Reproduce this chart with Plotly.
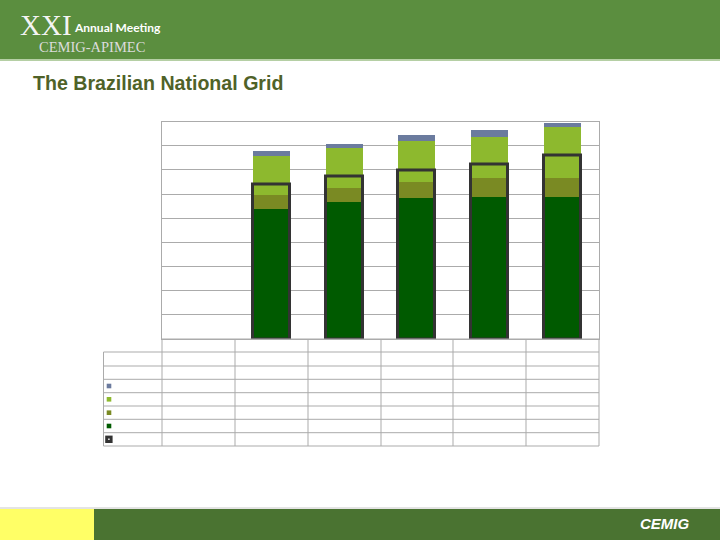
import numpy as np
import plotly.graph_objects as go

# ---------------- data ----------------
categories = [0, 1, 2, 3, 4, 5]            # six category columns (labels not shown)
cat_labels = ["", "", "", "", "", ""]
series_dark = [None, 5.38, 5.68, 5.85, 5.90, 5.90]
series_olive = [None, 0.58, 0.58, 0.68, 0.79, 0.80]
series_light = [None, 1.63, 1.67, 1.68, 1.71, 2.08]
series_blue = [None, 0.19, 0.18, 0.24, 0.25, 0.19]
series_box = [None, 6.39, 6.72, 6.96, 7.24, 7.61]
row_labels = ["", "", "", "", "", "", ""]

W, H = 720, 540


def px(x):
    return x / W


def py(y):
    return 1 - y / H


def arr(v):
    return np.array([np.nan if a is None else a for a in v], dtype=float)


d, o, l, b = arr(series_dark), arr(series_olive), arr(series_light), arr(series_blue)
bases = [np.zeros(6), d, d + o, d + o + l]
stack = [(d, "#005A00"), (o, "#7A8A23"), (l, "#8DB92E"), (b, "#6B7B9E")]

fig = go.Figure()
BW = 0.51
for (vals, col), base in zip(stack, bases):
    fig.add_trace(go.Bar(
        x=categories, y=vals, base=base, width=BW,
        marker=dict(color=col, line=dict(width=0)),
        showlegend=False, hoverinfo="skip"))

fig.add_trace(go.Bar(
    x=categories, y=arr(series_box), base=np.zeros(6), width=BW,
    marker=dict(color="rgba(0,0,0,0)", line=dict(width=3, color="#333333")),
    showlegend=False, hoverinfo="skip"))

# plot area geometry
X0, X1 = 162, 599
Y0, Y1 = 121.5, 339
GRID = "#ABABAB"

shapes = []
# header band
shapes.append(dict(type="rect", xref="paper", yref="paper", x0=0, x1=1,
                   y0=py(59), y1=1, fillcolor="#5B8E3F", line=dict(width=0), layer="below"))
shapes.append(dict(type="line", xref="paper", yref="paper", x0=0, x1=1,
                   y0=py(60), y1=py(60), line=dict(color="#9CBF86", width=1.5)))
# footer
shapes.append(dict(type="line", xref="paper", yref="paper", x0=0, x1=1,
                   y0=py(508), y1=py(508), line=dict(color="#C8C8C8", width=1)))
shapes.append(dict(type="rect", xref="paper", yref="paper", x0=0, x1=px(94),
                   y0=0, y1=py(509), fillcolor="#FFFF66", line=dict(width=0)))
shapes.append(dict(type="rect", xref="paper", yref="paper", x0=px(94), x1=1,
                   y0=0, y1=py(509), fillcolor="#4A7331", line=dict(width=0)))

# data table grid
col_lines = [162, 235, 308, 381, 453, 526, 599]
row_lines = [352, 366, 379.3, 392.7, 406, 419.3, 432.7, 446]
for cx in col_lines:
    shapes.append(dict(type="line", xref="paper", yref="paper", x0=px(cx), x1=px(cx),
                       y0=py(339), y1=py(446), line=dict(color=GRID, width=1)))
shapes.append(dict(type="line", xref="paper", yref="paper", x0=px(103.5), x1=px(103.5),
                   y0=py(352), y1=py(446), line=dict(color=GRID, width=1)))
for ry in row_lines:
    shapes.append(dict(type="line", xref="paper", yref="paper", x0=px(103.5), x1=px(599),
                       y0=py(ry), y1=py(ry), line=dict(color=GRID, width=1)))
shapes.append(dict(type="line", xref="paper", yref="paper", x0=px(162), x1=px(599),
                   y0=py(339), y1=py(339), line=dict(color=GRID, width=1)))

# legend keys in the table
key_cols = ["#6B7B9E", "#8DB92E", "#7A8A23", "#005A00"]
key_centers = [386, 399.3, 412.7, 426]
for kc, cy in zip(key_cols, key_centers):
    shapes.append(dict(type="rect", xref="paper", yref="paper",
                       x0=px(106.7), x1=px(111.3), y0=py(cy + 2.3), y1=py(cy - 2.3),
                       fillcolor=kc, line=dict(width=0)))
shapes.append(dict(type="rect", xref="paper", yref="paper",
                   x0=px(105.2), x1=px(112.6), y0=py(443), y1=py(435.6),
                   fillcolor="#333333", line=dict(width=0)))
shapes.append(dict(type="rect", xref="paper", yref="paper",
                   x0=px(108.2), x1=px(109.6), y0=py(440), y1=py(438.6),
                   fillcolor="#FFFFFF", line=dict(width=0)))

annotations = [
    dict(text="XXI", x=px(18), y=py(25), xref="paper", yref="paper", xanchor="left",
         yanchor="middle", showarrow=False,
         font=dict(family="Liberation Serif", size=29, color="#F4F4F4")),
    dict(text="<b>Annual Meeting</b>", x=px(72), y=py(28), xref="paper", yref="paper",
         xanchor="left", yanchor="middle", showarrow=False,
         font=dict(family="Lato", size=12, color="#FFFFFF")),
    dict(text="CEMIG-APIMEC", x=px(37), y=py(47), xref="paper", yref="paper",
         xanchor="left", yanchor="middle", showarrow=False,
         font=dict(family="Liberation Serif", size=14.5, color="#DCDCDC")),
    dict(text="<b>The Brazilian National Grid</b>", x=px(31), y=py(83), xref="paper",
         yref="paper", xanchor="left", yanchor="middle", showarrow=False,
         font=dict(family="Liberation Sans", size=19.6, color="#4F6228")),
    dict(text="<b><i>CEMIG</i></b>", x=px(665), y=py(523), xref="paper", yref="paper",
         xanchor="center", yanchor="middle", showarrow=False,
         font=dict(family="Liberation Sans", size=15, color="#FFFFFF")),
]

fig.update_layout(
    width=W, height=H, margin=dict(l=0, r=0, t=0, b=0),
    paper_bgcolor="white", plot_bgcolor="white",
    barmode="overlay", bargap=0,
    shapes=shapes, annotations=annotations, showlegend=False,
    xaxis=dict(domain=[px(X0), px(X1)], range=[-0.5, 5.5], showgrid=False,
               zeroline=False, showticklabels=False, ticks="",
               tickvals=categories, ticktext=cat_labels,
               showline=True, linecolor=GRID, linewidth=1, mirror=True, fixedrange=True),
    yaxis=dict(domain=[py(Y1), py(Y0)], range=[0, 9], dtick=1, showgrid=True,
               gridcolor=GRID, gridwidth=1, zeroline=False, showticklabels=False,
               ticks="", showline=True, linecolor=GRID, linewidth=1, mirror=True,
               fixedrange=True),
)

fig.write_html("out.html")
